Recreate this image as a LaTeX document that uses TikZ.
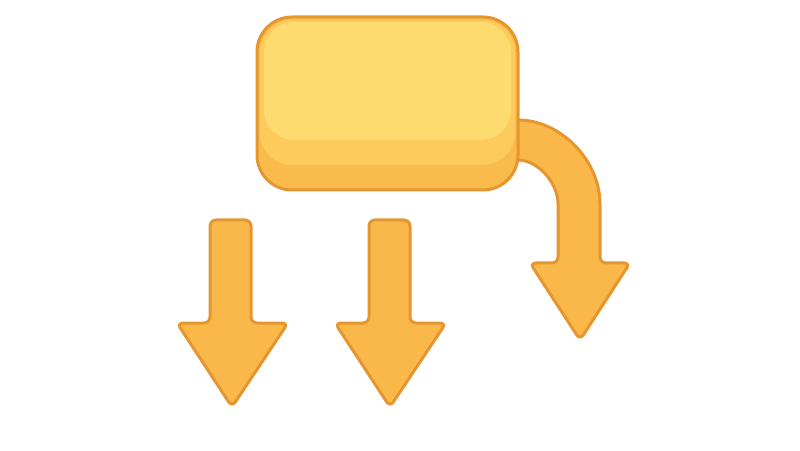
\documentclass[tikz,border=0pt]{standalone}
\usepackage{tikz}
\definecolor{edgeorange}{HTML}{E6962F}
\definecolor{arrowfill}{HTML}{FAB84B}
\definecolor{boxtop}{HTML}{FDDB6E}
\definecolor{boxmid}{HTML}{FCCB5B}
\definecolor{boxbottom}{HTML}{F9BB4B}
\tikzset{
  arrowshape/.style={fill=arrowfill, draw=edgeorange, line width=3pt, line join=round, rounded corners=6pt},
}
\begin{document}
\begin{tikzpicture}[x=1pt,y=1pt]
\useasboundingbox (0,0) rectangle (800,450);
\fill[white] (0,0) rectangle (800,450);
% curved arrow (behind box)
\draw[arrowshape] (505,330) -- (512,330) arc (90:0:88 and 90) -- (600,187) -- (630,187) -- (580,110) -- (530,187) -- (558,187) -- (558,240) arc (0:90:46 and 50) -- (505,290) -- cycle;
% box
\fill[boxbottom, rounded corners=35pt] (257,260) rectangle (518,433);
\fill[boxmid, rounded corners=32pt] (260,285) rectangle (515,430);
\fill[boxtop, rounded corners=30pt] (264,310) rectangle (511,428);
\draw[edgeorange, line width=3pt, rounded corners=35pt] (257,260) rectangle (518,433);
% left arrow
\draw[arrowshape] (210,230) -- (251,230) -- (251,127) -- (288,127) -- (232,43) -- (177,127) -- (210,127) -- cycle;
% middle arrow
\draw[arrowshape] (369,230) -- (410,230) -- (410,127) -- (446,127) -- (390,43) -- (335,127) -- (369,127) -- cycle;
\end{tikzpicture}
\end{document}
